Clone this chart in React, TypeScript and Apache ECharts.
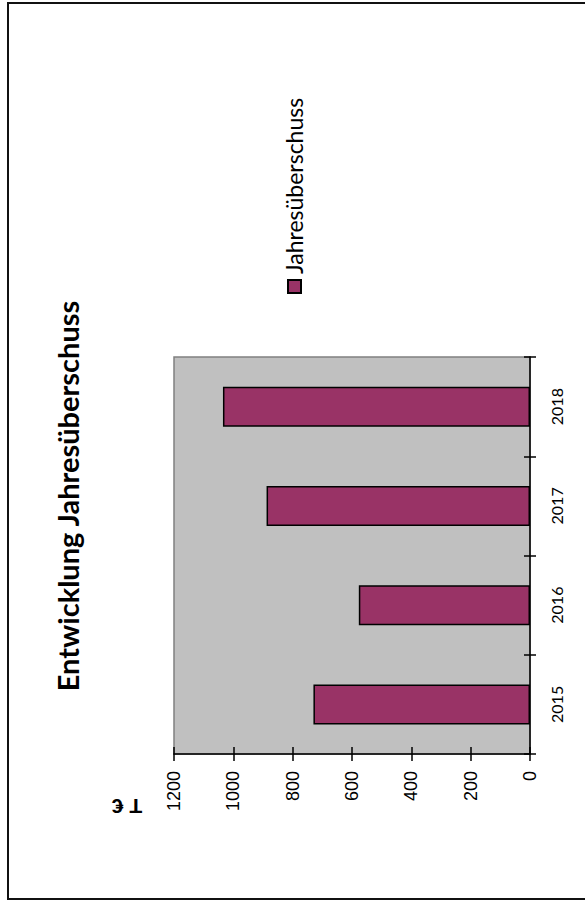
import React, { useEffect, useRef } from "react";
import * as echarts from "echarts";

const categories = ["2015", "2016", "2017", "2018"];
const values = [730, 577, 888, 1035];
const valueTicks = [0, 200, 400, 600, 800, 1000, 1200];
const seriesName = "Jahresüberschuss";
const titleText = "Entwicklung Jahresüberschuss";
const unitText = "T €";

export default function App() {
  const ref = useRef<HTMLDivElement>(null);
  useEffect(() => {
    const chart = echarts.init(ref.current as HTMLDivElement, null, { renderer: "svg" });
    const vMin = valueTicks[0];
    const vMax = valueTicks[valueTicks.length - 1];
    const vInt = valueTicks[1] - valueTicks[0];
    const axisColor = "#000";
    chart.setOption({
      animation: false,
      backgroundColor: "#ffffff",
      grid: {
        left: 174,
        right: 55,
        top: 357,
        bottom: 147,
        show: true,
        backgroundColor: "#c0c0c0",
        borderColor: "#808080",
        borderWidth: 1.5,
      },
      xAxis: [
        {
          type: "value",
          position: "bottom",
          inverse: true,
          min: vMin,
          max: vMax,
          interval: vInt,
          axisLine: { show: true, lineStyle: { color: axisColor, width: 1.5 } },
          axisTick: { show: true, length: 7, lineStyle: { color: axisColor, width: 1.5 } },
          splitLine: { show: false },
          axisLabel: {
            rotate: 90,
            margin: 17,
            fontFamily: "Liberation Sans",
            fontSize: 18,
            color: "#000",
            formatter: (v: number) => String(v),
          },
        },
        {
          type: "value",
          position: "bottom",
          inverse: true,
          min: vMin,
          max: vMax,
          interval: vInt,
          axisLine: { show: false },
          axisTick: { show: true, inside: true, length: 7, lineStyle: { color: axisColor, width: 1.5 } },
          splitLine: { show: false },
          axisLabel: { show: false },
        },
      ],
      yAxis: [
        {
          type: "category",
          position: "right",
          data: categories,
          axisLine: { show: true, lineStyle: { color: axisColor, width: 1.5 } },
          axisTick: { show: true, length: 6, lineStyle: { color: axisColor, width: 1.5 } },
          splitLine: { show: false },
          axisLabel: {
            rotate: 90,
            margin: 18,
            fontFamily: "Lato",
            fontSize: 16,
            color: "#000",
          },
        },
        {
          type: "category",
          position: "right",
          data: categories,
          axisLine: { show: false },
          axisTick: { show: true, inside: true, length: 6, lineStyle: { color: axisColor, width: 1.5 } },
          splitLine: { show: false },
          axisLabel: { show: false },
        },
      ],
      series: [
        {
          type: "bar",
          name: seriesName,
          data: values,
          xAxisIndex: 0,
          yAxisIndex: 0,
          barWidth: 40,
          itemStyle: { color: "#993366", borderColor: "#000", borderWidth: 1.5 },
        },
      ],
      graphic: [
        {
          type: "rect",
          shape: { x: 8, y: 3, width: 600, height: 896 },
          style: { fill: "none", stroke: "#111", lineWidth: 2 },
          silent: true,
        },
        {
          type: "text",
          x: 67,
          y: 496,
          rotation: Math.PI / 2,
          style: {
            text: titleText,
            fontFamily: "Lato",
            fontWeight: "bold",
            fontSize: 29,
            fill: "#000",
            align: "center",
            verticalAlign: "middle",
          },
        },
        {
          type: "text",
          x: 127,
          y: 806,
          rotation: Math.PI,
          style: {
            text: unitText,
            fontFamily: "Liberation Sans",
            fontWeight: "bold",
            fontSize: 21,
            fill: "#000",
            align: "center",
            verticalAlign: "middle",
          },
        },
        {
          type: "rect",
          shape: { x: 288, y: 280, width: 13, height: 13 },
          style: { fill: "#993366", stroke: "#000", lineWidth: 2 },
        },
        {
          type: "text",
          x: 294,
          y: 274,
          rotation: Math.PI / 2,
          style: {
            text: seriesName,
            fontFamily: "Lato",
            fontSize: 23,
            fill: "#000",
            align: "left",
            verticalAlign: "middle",
          },
        },
      ],
    });
    return () => chart.dispose();
  }, []);
  return (
    <div
      ref={ref}
      style={{ position: "fixed", left: 0, top: 0, width: 585, height: 901 }}
    />
  );
}
